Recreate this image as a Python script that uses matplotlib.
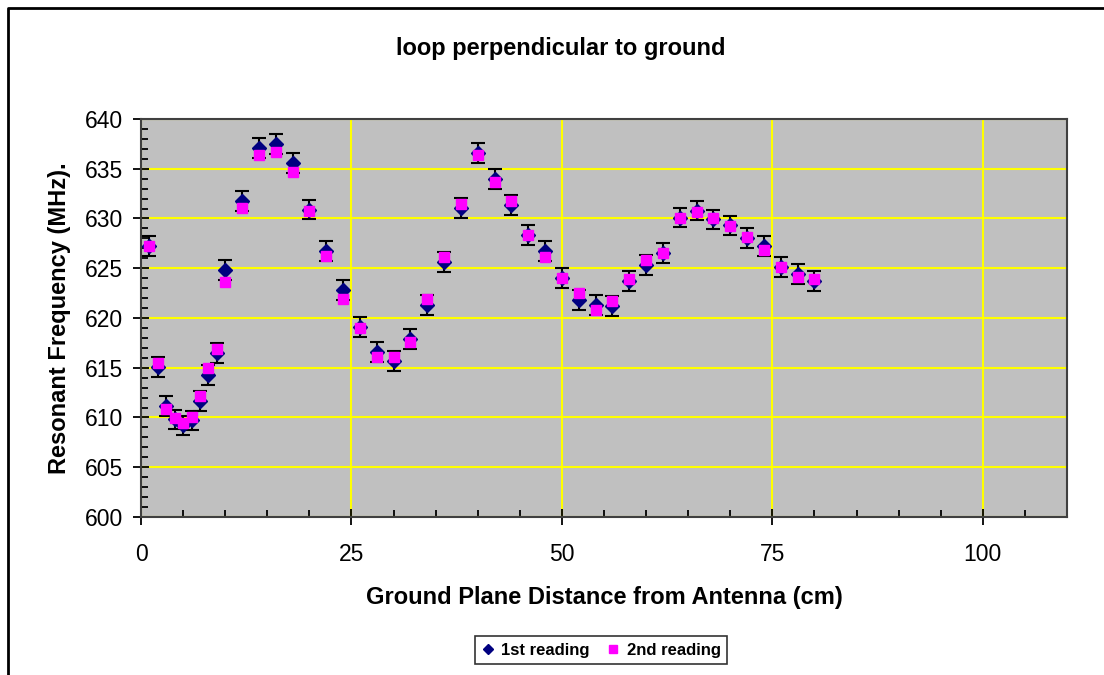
import matplotlib
matplotlib.use("Agg")
import matplotlib.pyplot as plt
from matplotlib.lines import Line2D
from matplotlib.ticker import MultipleLocator

# ── data ──────────────────────────────────────────────────────────────────
distance = [1, 2, 3, 4, 5, 6, 7, 8, 9, 10,
            12, 14, 16, 18, 20, 22, 24, 26, 28, 30,
            32, 34, 36, 38, 40, 42, 44, 46, 48, 50,
            52, 54, 56, 58, 60, 62, 64, 66, 68, 70,
            72, 74, 76, 78, 80]
first_reading = [627.2, 615.1, 611.2, 609.8, 609.2, 609.7, 611.7, 614.3, 616.5, 624.8,
                 631.8, 637.1, 637.5, 635.6, 630.9, 626.7, 622.8, 619.1, 616.6, 615.7,
                 617.9, 621.3, 625.6, 631.1, 636.6, 634.0, 631.4, 628.3, 626.7, 624.0,
                 621.8, 621.3, 621.2, 623.7, 625.3, 626.5, 630.1, 630.8, 629.9, 629.3,
                 628.0, 627.2, 625.1, 624.4, 623.7]
second_reading = [627.2, 615.5, 610.9, 609.9, 609.4, 610.1, 612.2, 615.0, 616.9, 623.6,
                  631.1, 636.4, 636.7, 634.7, 630.8, 626.2, 621.9, 619.0, 616.1, 616.1,
                  617.6, 621.9, 626.1, 631.5, 636.4, 633.7, 631.8, 628.3, 626.1, 624.0,
                  622.5, 620.8, 621.7, 623.9, 625.8, 626.5, 630.0, 630.7, 630.0, 629.2,
                  628.1, 626.8, 625.1, 624.1, 623.9]
error_mhz = [1.0] * len(distance)

NAVY = "#000080"
MAGENTA = "#FF00FF"
PLOT_BG = "#C0C0C0"
GRID_YELLOW = "#FFFF00"
FONT = ["Liberation Sans", "DejaVu Sans"]

plt.rcParams["font.family"] = FONT

fig = plt.figure(figsize=(11.04, 6.75), dpi=100)
fig.patch.set_facecolor("white")
ax = fig.add_axes([141 / 1104, 1 - 517 / 675, 926 / 1104, 398 / 675])
ax.set_facecolor(PLOT_BG)

# error bars belong to the 1st reading
ax.errorbar(distance, first_reading, yerr=error_mhz, fmt="none", ecolor="black",
            elinewidth=1.5, capsize=5, capthick=1.5, zorder=3)
ax.plot(distance, first_reading, linestyle="none", marker="D", markersize=7,
        color=NAVY, markeredgecolor=NAVY, zorder=4, label="1st reading")
ax.plot(distance, second_reading, linestyle="none", marker="s", markersize=6.8,
        color=MAGENTA, markeredgecolor=MAGENTA, zorder=5, label="2nd reading")

ax.set_xlim(0, 110)
ax.set_ylim(600, 640)
ax.xaxis.set_major_locator(MultipleLocator(25))
ax.xaxis.set_minor_locator(MultipleLocator(5))
ax.yaxis.set_major_locator(MultipleLocator(5))
ax.yaxis.set_minor_locator(MultipleLocator(1))
ax.grid(True, which="major", color=GRID_YELLOW, linewidth=1.5, zorder=1)
ax.set_axisbelow(True)

ax.tick_params(which="major", direction="inout", length=12, width=1.3, labelsize=16.5,
               colors="black")
ax.tick_params(axis="x", which="major", pad=13)
ax.tick_params(axis="y", which="major", pad=7)
ax.tick_params(which="minor", direction="in", length=5, width=1.3)
for sp in ax.spines.values():
    sp.set_color("#404040")
    sp.set_linewidth(1.5)

ax.set_xlabel("Ground Plane Distance from Antenna (cm)", fontsize=17,
              fontweight="bold", labelpad=14)
ax.set_ylabel("Resonant Frequency (MHz).", fontsize=17, fontweight="bold",
              labelpad=10)
fig.text(0.508, 1 - 48 / 675, "loop perpendicular to ground", ha="center",
         va="center", fontsize=17, fontweight="bold")

leg = fig.legend(loc="center", bbox_to_anchor=(601 / 1104, 1 - 650 / 675), ncol=2,
                 prop={"weight": "bold", "size": 12, "family": FONT},
                 frameon=True, fancybox=False, edgecolor="black", handlelength=0.8,
                 handletextpad=0.4, columnspacing=1.0, borderpad=0.4,
                 markerscale=0.8)
leg.get_frame().set_linewidth(1.2)

# outer chart frame (only top and left edges are visible in the crop)
fig.add_artist(Line2D([7.5 / 1104, 7.5 / 1104, 1.0], [0.0, 1 - 7.5 / 675, 1 - 7.5 / 675],
                      transform=fig.transFigure, color="black", linewidth=2))

fig.savefig("out.png", dpi=100, facecolor="white")
